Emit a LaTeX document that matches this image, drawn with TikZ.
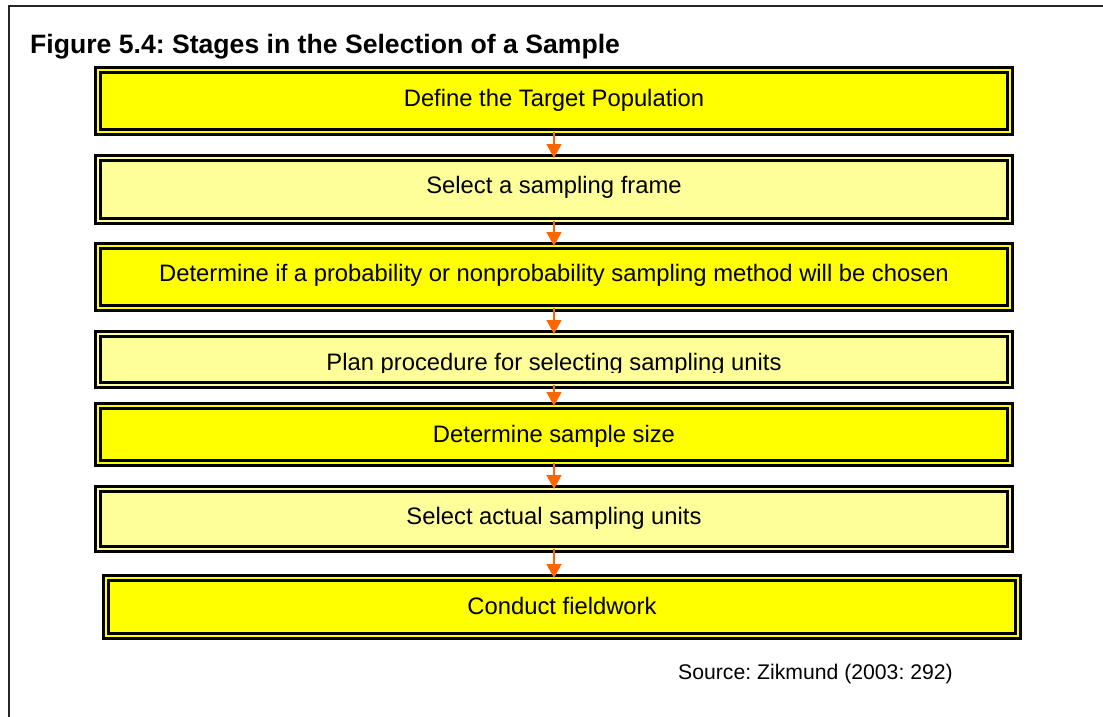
\documentclass[tikz,border=0pt]{standalone}
\usepackage{fontspec}
\setmainfont{Liberation Sans}
\usetikzlibrary{arrows.meta,backgrounds}
\frenchspacing
\definecolor{stepyellow}{HTML}{FFFF00}
\definecolor{steppale}{HTML}{FFFF99}
\definecolor{flowarrow}{HTML}{FF6600}
\definecolor{boxshade}{HTML}{B4B4B4}
\tikzset{
  stagebox/.style={rectangle, draw=black, line width=3pt, double=#1,
    double distance=2pt, fill=#1, minimum width=912pt,
    inner sep=0pt, outer sep=0pt},
  stagetext/.style={font=\fontsize{23.8}{28}\selectfont, anchor=base,
    inner sep=0pt},
  flow/.style={draw=flowarrow, line width=1.5pt,
    -{Triangle[width=15pt,length=14pt]}},
  shade/.style={draw=boxshade, line width=8pt},
}
\begin{document}
\begin{tikzpicture}[x=1pt,y=-1pt]
  \useasboundingbox (0,0) rectangle (1103,717);
  \fill[white] (0,0) rectangle (1103,717);
  \clip (0,0) rectangle (1103,717);

  % page frame (open to the right and bottom)
  \draw[line width=2pt, black!85] (8.5,730) -- (8.5,6) -- (1120,6);

  % title
  \node[anchor=base west, inner sep=0pt,
        font=\fontsize{26.6}{32}\selectfont\bfseries] (title) at (30,54)
        {Figure 5.4: Stages in the Selection of a Sample};

  % stage boxes
  \node[stagebox=stepyellow, minimum height=62pt] (b1) at (554,101) {};
  \node[stagebox=steppale,   minimum height=63pt] (b2) at (554,189.5) {};
  \node[stagebox=stepyellow, minimum height=62pt] (b3) at (554,277) {};
  \node[stagebox=steppale,   minimum height=51pt] (b4) at (554,359.5) {};
  \node[stagebox=stepyellow, minimum height=57pt] (b5) at (554,434.5) {};
  \node[stagebox=steppale,   minimum height=60pt] (b6) at (554,519) {};
  \node[stagebox=stepyellow, minimum height=58pt] (b7) at (562,607) {};

  % soft shadow below and right of each box
  \begin{scope}[on background layer]
    \foreach \b in {b1,b2,b3,b4,b5,b6,b7}
      \draw[shade] ([shift={(1,1)}]\b.south west) rectangle ([shift={(1,1)}]\b.north east);
  \end{scope}

  % stage labels
  \node[stagetext] (t1) at (554,106.5) {Define the Target Population};
  \node[stagetext] (t2) at (554,193.5) {Select a sampling frame};
  \node[stagetext] (t3) at (554,281) {Determine if a probability or nonprobability sampling method will be chosen};
  \begin{scope}
    \clip (94,330) rectangle (1014,372.5);
    \node[stagetext] (t4) at (554,370) {Plan procedure for selecting sampling units};
  \end{scope}
  \node[stagetext] (t5) at (554,442.5) {Determine sample size};
  \node[stagetext] (t6) at (554,524.5) {Select actual sampling units};
  \node[stagetext] (t7) at (562,614.5) {Conduct fieldwork};

  % flow arrows
  \draw[flow] (b1.south) -- (b2.north);
  \draw[flow] (b2.south) -- (b3.north);
  \draw[flow] (b3.south) -- (b4.north);
  \draw[flow] (b4.south) -- (b5.north);
  \draw[flow] (b5.south) -- (b6.north);
  \draw[flow] (b6.south) -- (b6.south |- b7.north);

  % source note
  \node[anchor=base west, inner sep=0pt, font=\fontsize{21.2}{25}\selectfont]
        (source) at (678,679) {Source: Zikmund (2003: 292)};
\end{tikzpicture}
\end{document}
